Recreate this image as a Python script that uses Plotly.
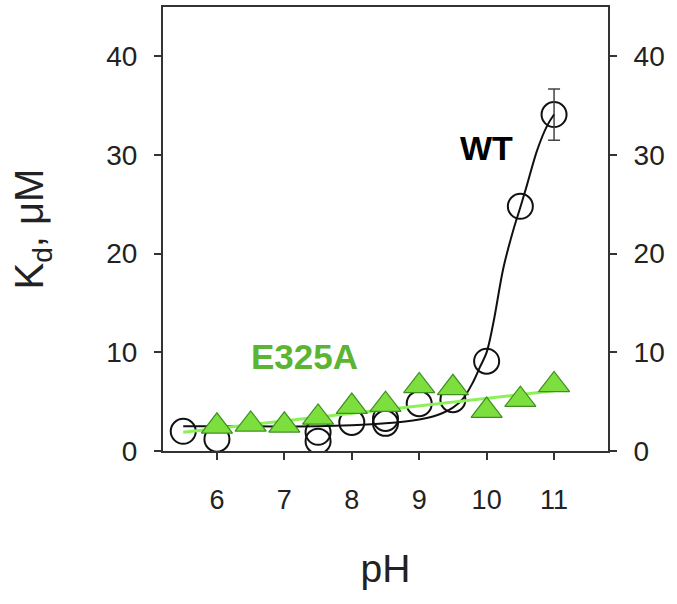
import plotly.graph_objects as go

# WT (open circles), pH 7.5 and 8.5 have two overlapping measurements
wt_ph = [5.5, 6.0, 7.5, 7.5, 8.0, 8.5, 8.5, 9.0, 9.5, 10.0, 10.5, 11.0]
wt_kd = [2.0, 1.2, 1.0, 1.9, 2.9, 2.8, 3.3, 4.8, 5.2, 9.1, 24.8, 34.1]
wt_err = [0, 0, 0, 0, 0, 0, 0, 0, 0, 0, 0, 2.6]

# WT fitted curve
wt_fit_ph = [5.5, 6.5, 7.5, 8.0, 8.5, 9.0, 9.25, 9.5, 9.65, 9.8, 9.9, 10.0, 10.1, 10.25, 10.4, 10.5, 10.6, 10.75, 10.9, 11.0]
wt_fit_kd = [2.5, 2.5, 2.5, 2.6, 2.8, 3.2, 3.6, 4.4, 5.3, 7.0, 8.5, 10.0, 13.0, 18.6, 22.5, 24.7, 27.0, 30.5, 33.0, 34.1]

# E325A (green triangles) and its linear fit
mut_ph = [6.0, 6.5, 7.0, 7.5, 8.0, 8.5, 9.0, 9.5, 10.0, 10.5, 11.0]
mut_kd = [2.5, 2.7, 2.6, 3.4, 4.5, 4.7, 6.6, 6.4, 4.1, 5.2, 6.7]
mut_fit_ph = [5.5, 11.0]
mut_fit_kd = [1.9, 6.1]

y_ticks = [0, 10, 20, 30, 40]
x_ticks = [6, 7, 8, 9, 10, 11]

font = "Liberation Sans, Arial, sans-serif"
axis_col = "#333333"

fig = go.Figure()

fig.add_trace(go.Scatter(
    x=wt_ph, y=wt_kd, mode="markers",
    marker=dict(symbol="circle-open", size=25, color="#111111", line=dict(width=2)),
))
ep = [p for p, e in zip(wt_ph, wt_err) if e > 0]
ev = [k for k, e in zip(wt_kd, wt_err) if e > 0]
ee = [e for e in wt_err if e > 0]
fig.add_trace(go.Scatter(
    x=ep, y=ev, mode="markers", marker=dict(size=1, opacity=0),
    error_y=dict(type="data", array=ee, color="#444444", thickness=1.5, width=6),
))
fig.add_trace(go.Scatter(
    x=wt_fit_ph, y=wt_fit_kd, mode="lines", line_shape="spline",
    line=dict(color="#111111", width=2),
))
fig.add_trace(go.Scatter(
    x=mut_fit_ph, y=mut_fit_kd, mode="lines",
    line=dict(color="#8cf05a", width=3),
))
fig.add_trace(go.Scatter(
    x=mut_ph, y=mut_kd, mode="markers",
    marker=dict(symbol="triangle-up", size=27, color="#7ddf3e",
                line=dict(color="#3f8f22", width=1.2)),
))
# invisible trace so the right-hand axis is drawn
fig.add_trace(go.Scatter(x=[6], y=[0], yaxis="y2", mode="markers",
                         marker=dict(opacity=0), hoverinfo="skip"))

fig.add_annotation(x=10.0, y=30.7, text="<b>WT</b>", showarrow=False,
                   font=dict(family=font, size=34, color="#000000"))
fig.add_annotation(x=7.3, y=9.6, text="<b>E325A</b>", showarrow=False,
                   font=dict(family=font, size=35, color="#5cb532"))

fig.update_layout(
    width=677, height=604,
    margin=dict(l=163, r=69, t=5, b=153),
    plot_bgcolor="white", paper_bgcolor="white",
    showlegend=False,
    font=dict(family=font, color="#222222"),
    xaxis=dict(
        range=[5.2, 11.8], tickvals=x_ticks, ticks="outside", ticklen=7, tickwidth=2,
        tickcolor=axis_col, showline=True, linecolor=axis_col, linewidth=2, mirror=True,
        showgrid=False, zeroline=False, tickfont=dict(size=27), ticklabelstandoff=17,
        title=dict(text="pH", font=dict(size=39), standoff=40),
    ),
    yaxis=dict(
        range=[0, 45], tickvals=y_ticks, ticks="outside", ticklen=7, tickwidth=2,
        tickcolor=axis_col, showline=True, linecolor=axis_col, linewidth=2,
        showgrid=False, zeroline=False, tickfont=dict(size=28), ticklabelstandoff=11,
        title=dict(text="K<sub>d</sub>, μM", font=dict(size=40), standoff=50),
    ),
    yaxis2=dict(
        range=[0, 45], tickvals=y_ticks, ticks="outside", ticklen=7, tickwidth=2,
        tickcolor=axis_col, showline=True, linecolor=axis_col, linewidth=2,
        overlaying="y", side="right", showgrid=False, zeroline=False,
        tickfont=dict(size=28), ticklabelstandoff=11,
    ),
)

# drop the browser's default page margin so the figure fills the window
fig.write_html("out.html", config={"displayModeBar": False},
               post_script="document.body.style.margin='0';document.body.style.overflow='hidden';")
